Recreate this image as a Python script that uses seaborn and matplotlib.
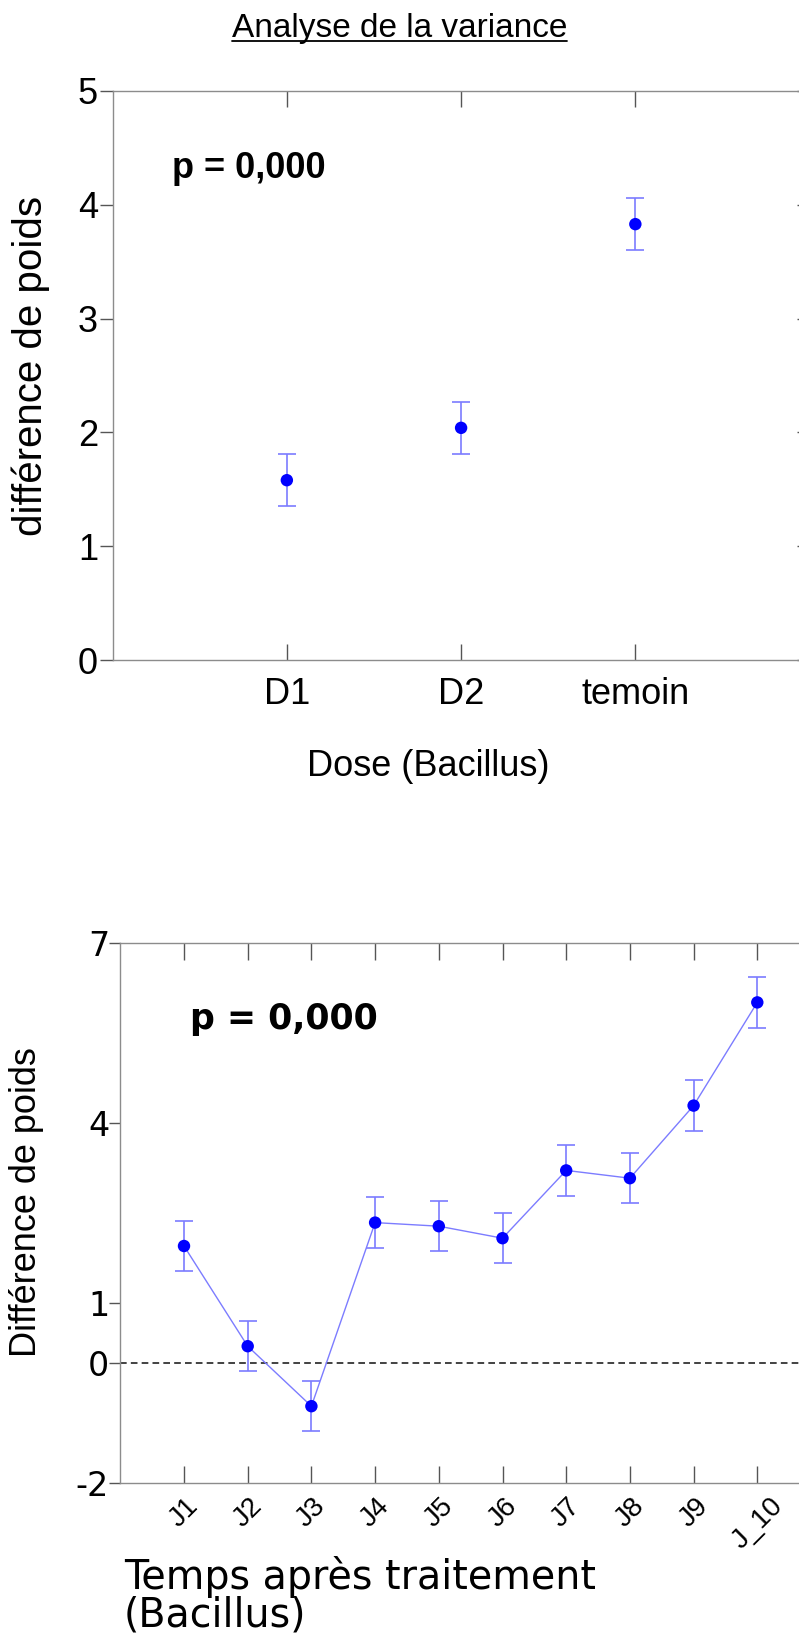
import numpy as np
import pandas as pd
import matplotlib
matplotlib.use("Agg")
import matplotlib.pyplot as plt
from matplotlib.lines import Line2D
import seaborn as sns

# valeurs
doses = ["D1", "D2", "temoin"]
dose_means = [1.58, 2.04, 3.83]
dose_err = [0.23, 0.23, 0.23]

days = ["J1", "J2", "J3", "J4", "J5", "J6", "J7", "J8", "J9", "J_10"]
day_means = [1.95, 0.28, -0.72, 2.34, 2.28, 2.08, 3.21, 3.08, 4.29, 6.01]
day_err = [0.42, 0.42, 0.42, 0.42, 0.42, 0.42, 0.42, 0.42, 0.42, 0.42]

sns.set_theme(style="white")
plt.rcParams["font.family"] = ["Liberation Sans", "DejaVu Sans"]
plt.rcParams["axes.unicode_minus"] = False
plt.rcParams["text.color"] = "black"
plt.rcParams["axes.labelcolor"] = "black"
plt.rcParams["xtick.labelcolor"] = "black"
plt.rcParams["ytick.labelcolor"] = "black"

W, H = 799, 1644
fig = plt.figure(figsize=(W / 100, H / 100), dpi=100)

dot_color = "#0000ff"
bar_color = "#7c7cff"
spine_color = "#8c8c8c"
tick_color = "#555555"

# ---- graphique du haut : dose
ax1 = fig.add_axes([112.6 / W, 1 - 660 / H, 697 / W, 569 / H])
df1 = pd.DataFrame({"pos": np.arange(1, len(doses) + 1), "mean": dose_means, "err": dose_err})
ax1.errorbar(df1["pos"], df1["mean"], yerr=df1["err"], fmt="none",
             ecolor=bar_color, elinewidth=1.2, capsize=6.5, capthick=1.2, zorder=2)
sns.scatterplot(data=df1, x="pos", y="mean", ax=ax1, color=dot_color, s=80,
                edgecolor="none", zorder=3, legend=False)
ax1.set_xlim(0, 4)
ax1.set_ylim(0, 5)
ax1.set_xticks(df1["pos"])
ax1.set_xticklabels(doses)
ax1.set_yticks(range(0, 6))
ax1.tick_params(axis="x", which="both", direction="in", length=11.5, width=1,
                color=tick_color, top=True, bottom=True, labelsize=26, pad=12)
ax1.tick_params(axis="y", which="both", direction="out", length=9.5, width=1,
                color=tick_color, left=True, labelsize=26, pad=1)
ax1.tick_params(axis="y", which="both", right=True)
for t in ax1.yaxis.get_major_ticks():
    t.tick2line.set_marker(matplotlib.lines.TICKLEFT)
for s in ax1.spines.values():
    s.set_color(spine_color)
    s.set_linewidth(1)
ax1.set_xlabel("Dose (Bacillus)", fontsize=26, va="center")
ax1.xaxis.set_label_coords((428.6 - 112.6) / 697, (660 - 766) / 569)
ax1.set_ylabel("différence de poids", fontsize=29, va="center")
ax1.yaxis.set_label_coords((31 - 112.6) / 697, (660 - 366) / 569)
ax1.text((172 - 112.6) / 697, (660 - 169) / 569, "p = 0,000", transform=ax1.transAxes,
         fontsize=26, fontweight="bold", ha="left", va="center")

# ---- graphique du bas : temps
ax2 = fig.add_axes([120.3 / W, 1 - 1483 / H, 700.7 / W, 540 / H])
df2 = pd.DataFrame({"pos": np.arange(1, len(days) + 1), "mean": day_means, "err": day_err})
ax2.axhline(0, color="#222222", linestyle=(0, (4, 2.5)), linewidth=1.2, zorder=1)
sns.lineplot(data=df2, x="pos", y="mean", ax=ax2, color=bar_color, linewidth=1, zorder=2)
ax2.errorbar(df2["pos"], df2["mean"], yerr=df2["err"], fmt="none",
             ecolor=bar_color, elinewidth=1.2, capsize=6.5, capthick=1.2, zorder=2)
sns.scatterplot(data=df2, x="pos", y="mean", ax=ax2, color=dot_color, s=80,
                edgecolor="none", zorder=3, legend=False)
ax2.set_xlim(0, 11)
ax2.set_ylim(-2, 7)
ax2.set_xticks(df2["pos"])
ax2.set_xticklabels(days, rotation=45, ha="center")
ax2.set_yticks([-2, 0, 1, 4, 7])
ax2.tick_params(axis="x", which="both", direction="in", length=12, width=1,
                color=tick_color, top=True, bottom=True, labelsize=20, pad=7)
ax2.tick_params(axis="y", which="both", direction="out", length=8, width=1,
                color=tick_color, left=True, right=True, pad=0)
for t in ax2.yaxis.get_major_ticks():
    t.tick2line.set_marker(matplotlib.lines.TICKLEFT)
    t.label1.set_fontfamily("DejaVu Sans")
    t.label1.set_fontsize(24)
for s in ax2.spines.values():
    s.set_color(spine_color)
    s.set_linewidth(1)
ax2.set_xlabel("Temps après traitement\n(Bacillus)", fontsize=28.5, family="DejaVu Sans",
               ha="left", va="top", multialignment="left", linespacing=0.92)
ax2.xaxis.set_label_coords((124 - 120.3) / 700.7, (1483 - 1556) / 540)
ax2.set_ylabel("Différence de poids", fontsize=26, va="center")
ax2.yaxis.set_label_coords((26.5 - 120.3) / 700.7, (1483 - 1201.6) / 540)
ax2.text((190 - 120.3) / 700.7, (1483 - 1019) / 540, "p = 0,000", transform=ax2.transAxes,
         fontsize=25, fontweight="bold", family="DejaVu Sans", ha="left", va="center")

# ---- titre souligné
title = fig.text(0.5, 1 - 37 / H, "Analyse de la variance", fontsize=24,
                 ha="center", va="baseline")
fig.canvas.draw()
bb = title.get_window_extent()
fig.add_artist(Line2D([bb.x0 / W, bb.x1 / W], [1 - 41 / H, 1 - 41 / H],
                      transform=fig.transFigure, color="black", linewidth=1.3))

fig.savefig("out.png", dpi=100)
